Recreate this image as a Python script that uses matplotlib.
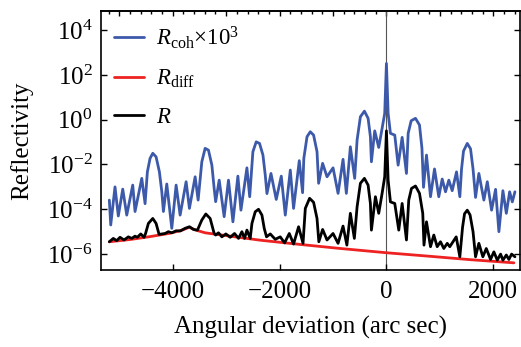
import numpy as np
import matplotlib
matplotlib.use('Agg')
from matplotlib import pyplot as plt
from matplotlib.ticker import FixedLocator, MultipleLocator, NullLocator, LogFormatterMathtext

plt.rcParams.update({'font.family': 'serif',
                     'font.serif': ['Liberation Serif'],
                     'mathtext.fontset': 'custom',
                     'mathtext.rm': 'Liberation Serif',
                     'mathtext.it': 'Liberation Serif:italic',
                     'font.size': 18})

# angular deviation (arc sec) and log10 of reflectivity
coh_x = [-5186, -5160, -5080, -5018, -4935, -4860, -4748, -4705, -4579, -4517,
         -4474, -4424, -4373, -4311, -4249, -4204, -4174, -4111, -4017, -3936,
         -3861, -3749, -3687, -3580, -3524, -3455, -3393, -3331, -3267, -3224,
         -3196, -3130, -3037, -2956, -2873, -2780, -2723, -2611, -2559, -2499,
         -2437, -2375, -2311, -2268, -2236, -2161, -2062, -1968, -1893, -1799,
         -1738, -1631, -1569, -1546, -1486, -1425, -1363, -1299, -1269, -1194,
         -1112, -999, -905, -812, -750, -675, -594, -549, -487, -412,
         -343, -300, -281, -219, -144, -81, -32, 0, 32, 75,
         156, 219, 294, 375, 407, 463, 544, 619, 665, 694,
         750, 825, 900, 980, 1044, 1106, 1168, 1231, 1312, 1374,
         1406, 1443, 1513, 1574, 1621, 1668, 1730, 1824, 1888, 1968,
         2043, 2105, 2180, 2244, 2306, 2356, 2405]
coh_log = [-3.59, -4.7, -3.0, -4.3, -3.1, -4.26, -2.92, -4.1, -2.62, -3.75,
           -2.33, -1.73, -1.5, -1.66, -2.33, -3.22, -4.1, -2.87, -4.85, -2.92,
           -4.26, -2.77, -3.96, -2.55, -3.59, -1.88, -1.28, -1.36, -2.03, -3.07,
           -3.66, -2.7, -4.33, -2.7, -4.56, -2.52, -4.04, -2.15, -3.44, -1.43,
           -0.99, -1.06, -1.58, -2.47, -3.3, -2.4, -3.56, -2.52, -4.26, -2.25,
           -3.96, -1.83, -3.26, -1.73, -0.76, -0.54, -0.69, -1.43, -2.84, -1.95,
           -2.55, -2.15, -3.29, -1.77, -3.29, -1.21, -2.62, -0.91, 0.13, 0.38,
           0.06, -0.76, -1.88, -0.5, -1.24, -0.39, 0.28, 2.51, 0.28, -0.61,
           -0.69, -2.03, -0.79, -2.4, -0.61, -0.05, 0.06, -0.24, -1.28, -3.02,
           -1.58, -3.44, -2.2, -3.44, -2.65, -3.22, -2.7, -3.17, -2.33, -3.44,
           -2.2, -1.4, -1.06, -1.3, -2.2, -3.47, -2.4, -3.59, -2.77, -4.04,
           -3.11, -5.0, -3.17, -4.18, -3.22, -3.67, -3.22]

tot_x = [-5186, -5112, -5048, -4986, -4911, -4830, -4767, -4705, -4662, -4598,
         -4536, -4508, -4455, -4373, -4311, -4255, -4199, -4142, -4081, -4017,
         -3936, -3861, -3768, -3687, -3612, -3537, -3455, -3380, -3299, -3224,
         -3196, -3143, -3080, -3005, -2924, -2843, -2768, -2705, -2656, -2611,
         -2549, -2517, -2455, -2394, -2330, -2287, -2244, -2174, -2081, -1987,
         -1906, -1818, -1738, -1644, -1561, -1518, -1438, -1363, -1299, -1265,
         -1194, -1112, -999, -905, -812, -740, -675, -600, -549, -487,
         -412, -343, -300, -281, -206, -144, -81, -32, 0, 32,
         75, 156, 231, 294, 375, 418, 469, 544, 619, 680,
         703, 750, 825, 887, 950, 1012, 1074, 1138, 1186, 1306,
         1374, 1425, 1462, 1513, 1565, 1621, 1668, 1730, 1805, 1869,
         1949, 2011, 2075, 2137, 2180, 2244, 2292, 2343, 2405]
tot_log = [-5.45, -5.3, -5.4, -5.25, -5.37, -5.23, -5.3, -5.2, -5.25, -5.1,
           -5.25, -5.08, -4.63, -4.41, -4.63, -5.12, -5.1, -5.08, -5.0, -5.05,
           -4.96, -4.97, -4.85, -4.78, -4.9, -4.93, -4.48, -4.21, -4.41, -5.08,
           -5.15, -5.05, -5.23, -5.1, -5.25, -5.08, -5.3, -5.0, -5.3, -4.93,
           -5.3, -4.63, -4.11, -4.0, -4.26, -4.85, -5.23, -5.1, -5.34, -5.23,
           -5.5, -5.08, -5.55, -4.78, -5.52, -3.96, -3.51, -3.69, -4.41, -5.45,
           -4.9, -5.37, -5.08, -5.52, -4.75, -5.6, -4.18, -5.3, -3.89, -2.84,
           -2.62, -2.92, -3.74, -4.93, -3.44, -4.18, -3.29, -2.55, -0.5, -2.7,
           -3.67, -3.74, -4.93, -3.74, -5.37, -3.59, -3.07, -2.96, -3.29, -4.18,
           -5.6, -4.56, -5.67, -5.15, -5.67, -5.45, -5.75, -5.52, -5.67, -5.23,
           -6.12, -4.8, -4.2, -4.04, -4.25, -5.0, -6.12, -5.52, -6.12, -5.75,
           -6.24, -5.9, -6.27, -6.0, -6.27, -6.04, -6.24, -6.0, -6.12]

diff_x = [-5186, -4798, -4424, -4049, -3824, -3687, -3580, -3393, -2924, -2362,
          -1612, -862, 0, 825, 1574, 2386]
diff_log = [-5.45, -5.35, -5.22, -5.07, -4.93, -4.8, -4.92, -5.05, -5.2, -5.38,
            -5.57, -5.75, -5.94, -6.1, -6.25, -6.39]

blue = '#3D5AAA'
red = '#EE2222'

fig = plt.figure(figsize=(5.21, 3.47), dpi=100)
ax = fig.add_axes([101 / 521, 77 / 347, 419 / 521, 259 / 347])

ax.axvline(0, color='#555555', lw=0.8, zorder=1)
style = dict(lw=2.0, solid_joinstyle='round', solid_capstyle='round')
ax.plot(coh_x, 10.0 ** np.array(coh_log), color=blue, label=r'$R_{\rm coh}$$\times$$10^3$', **style)
ax.plot(diff_x, 10.0 ** np.array(diff_log), color=red, label=r'$R_{\rm diff}$', **style)
ax.plot(tot_x, 10.0 ** np.array(tot_log), color='black', label=r'$R$', **style)

ax.set_yscale('log')
ax.set_xlim(-5342, 2500)
ax.set_ylim(10 ** -6.71, 10 ** 4.85)
ax.yaxis.set_major_locator(FixedLocator(10.0 ** np.arange(-6, 5, 2)))
ax.yaxis.set_major_formatter(LogFormatterMathtext())
ax.yaxis.set_minor_locator(NullLocator())
ax.xaxis.set_major_locator(MultipleLocator(2000))
ax.xaxis.set_minor_locator(NullLocator())
ax.tick_params(which='major', direction='in', length=4.5, width=1, right=True, pad=6)
ax.tick_params(axis='x', pad=8)

top = ax.secondary_xaxis('top')
top.xaxis.set_major_locator(MultipleLocator(1000))
top.xaxis.set_minor_locator(MultipleLocator(200))
top.tick_params(which='major', direction='in', length=3.5, width=1, labeltop=False)
top.tick_params(which='minor', direction='in', length=2, width=1)

for s in list(ax.spines.values()) + [top.spines['top']]:
    s.set_linewidth(1.2)

ax.set_xlabel('Angular deviation (arc sec)', labelpad=9)
ax.set_ylabel('Reflectivity', labelpad=10)

ax.legend(loc='upper left', bbox_to_anchor=(0.01, 0.985), frameon=False, fontsize=16.5,
          handlelength=1.3, handletextpad=0.5, labelspacing=0.75, borderaxespad=0)

plt.savefig('out.png', dpi=100)
